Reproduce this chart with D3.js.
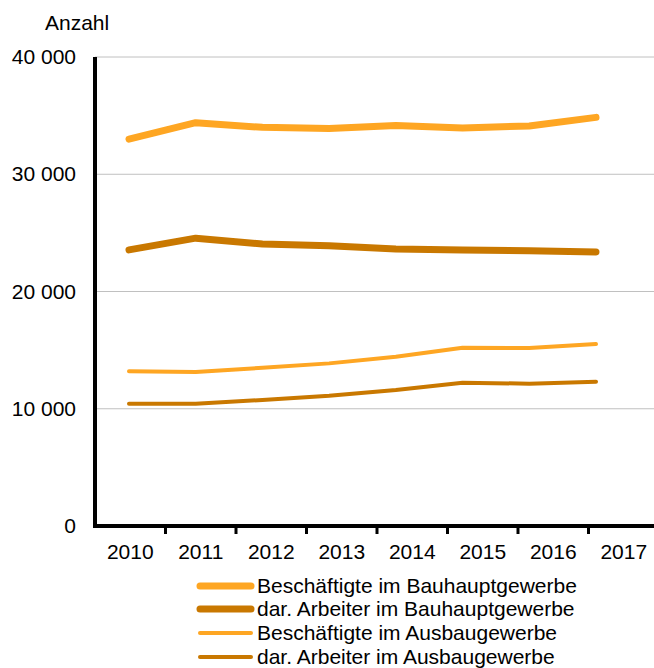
<!DOCTYPE html>
<html>
<head>
<meta charset="utf-8">
<script src="https://cdn.jsdelivr.net/npm/d3@7"></script>
<style>
	body { margin: 0; background: #fff; }
	text { font-family: "Liberation Sans", Arial, sans-serif; fill: #000; }
</style>
</head>
<body>
<svg id="chart" width="654" height="668"></svg>
<script>
// data
var years = ["2010", "2011", "2012", "2013", "2014", "2015", "2016", "2017"];
var beschBau = [33000, 34400, 34000, 33900, 34150, 33950, 34120, 34850];
var arbBau = [23550, 24550, 24050, 23900, 23620, 23540, 23480, 23370];
var beschAus = [13200, 13130, 13500, 13870, 14440, 15200, 15180, 15520];
var arbAus = [10430, 10420, 10750, 11110, 11600, 12220, 12140, 12310];
var yTicks = [0, 10000, 20000, 30000, 40000];
var seriesNames = [
	"Beschäftigte im Bauhauptgewerbe",
	"dar. Arbeiter im Bauhauptgewerbe",
	"Beschäftigte im Ausbaugewerbe",
	"dar. Arbeiter im Ausbaugewerbe"
];

window.onload = init;

function init() {
	var svg = d3.select("#chart");
	var opts = {
		left: 95,
		right: 659,
		top: 57,
		bottom: 526,
		light: "#FEA623",
		dark: "#C97800",
		font: "21px"
	};

	var series = [
		{ name: seriesNames[0], values: beschBau, color: opts.light, width: 7 },
		{ name: seriesNames[1], values: arbBau, color: opts.dark, width: 7 },
		{ name: seriesNames[2], values: beschAus, color: opts.light, width: 4 },
		{ name: seriesNames[3], values: arbAus, color: opts.dark, width: 4 }
	];

	var y = d3.scaleLinear().domain([0, 40000]).range([opts.bottom, opts.top]);
	// category axis (labels/ticks) and plotting positions differ slightly in the original
	var xBand = d3.scaleBand().domain(years).range([opts.left, opts.right]);
	var xPt = d3.scalePoint().domain(years).range([129, 596]);

	// gridlines
	svg.append("g").attr("class", "grid")
		.selectAll("line")
		.data(yTicks.filter(function(d) { return d > 0; }))
		.enter().append("line")
		.attr("x1", opts.left)
		.attr("x2", 654)
		.attr("y1", function(d) { return y(d); })
		.attr("y2", function(d) { return y(d); })
		.attr("stroke", "#c0c0c0")
		.attr("stroke-width", 1);

	// y labels
	var fmt = function(d) { return d3.format(",")(d).replace(/,/g, " "); };
	svg.append("g").selectAll("text")
		.data(yTicks)
		.enter().append("text")
		.attr("x", 76)
		.attr("y", function(d) { return y(d) + 7; })
		.attr("text-anchor", "end")
		.style("font-size", opts.font)
		.text(fmt);

	svg.append("text")
		.attr("x", 45)
		.attr("y", 30)
		.style("font-size", opts.font)
		.text("Anzahl");

	// lines
	var line = d3.line()
		.x(function(d, i) { return xPt(years[i]); })
		.y(function(d) { return y(d); });

	svg.append("g").selectAll("path")
		.data(series)
		.enter().append("path")
		.attr("d", function(s) { return line(s.values); })
		.attr("fill", "none")
		.attr("stroke", function(s) { return s.color; })
		.attr("stroke-width", function(s) { return s.width; })
		.attr("stroke-linecap", "round")
		.attr("stroke-linejoin", "round");

	// axes
	svg.append("line")
		.attr("x1", opts.left).attr("x2", opts.left)
		.attr("y1", opts.top).attr("y2", opts.bottom + 2)
		.attr("stroke", "#000").attr("stroke-width", 4);
	svg.append("line")
		.attr("x1", opts.left - 2).attr("x2", 654)
		.attr("y1", opts.bottom).attr("y2", opts.bottom)
		.attr("stroke", "#000").attr("stroke-width", 4);

	svg.append("g").selectAll("line")
		.data(years.slice(1))
		.enter().append("line")
		.attr("x1", function(d) { return xBand(d); })
		.attr("x2", function(d) { return xBand(d); })
		.attr("y1", opts.bottom)
		.attr("y2", opts.bottom + 8)
		.attr("stroke", "#000").attr("stroke-width", 3);

	svg.append("g").selectAll("text")
		.data(years)
		.enter().append("text")
		.attr("x", function(d) { return xBand(d) + xBand.bandwidth() / 2; })
		.attr("y", 559)
		.attr("text-anchor", "middle")
		.style("font-size", opts.font)
		.text(function(d) { return d; });

	// legend
	var leg = svg.append("g").selectAll("g")
		.data(series)
		.enter().append("g")
		.attr("transform", function(s, i) { return "translate(0," + [586, 609, 633, 657][i] + ")"; });
	leg.append("line")
		.attr("x1", 200).attr("x2", 251)
		.attr("y1", 0).attr("y2", 0)
		.attr("stroke", function(s) { return s.color; })
		.attr("stroke-width", function(s) { return s.width; })
		.attr("stroke-linecap", "round");
	leg.append("text")
		.attr("x", 257)
		.attr("y", 7)
		.style("font-size", opts.font)
		.text(function(s) { return s.name; });
}
</script>
</body>
</html>
